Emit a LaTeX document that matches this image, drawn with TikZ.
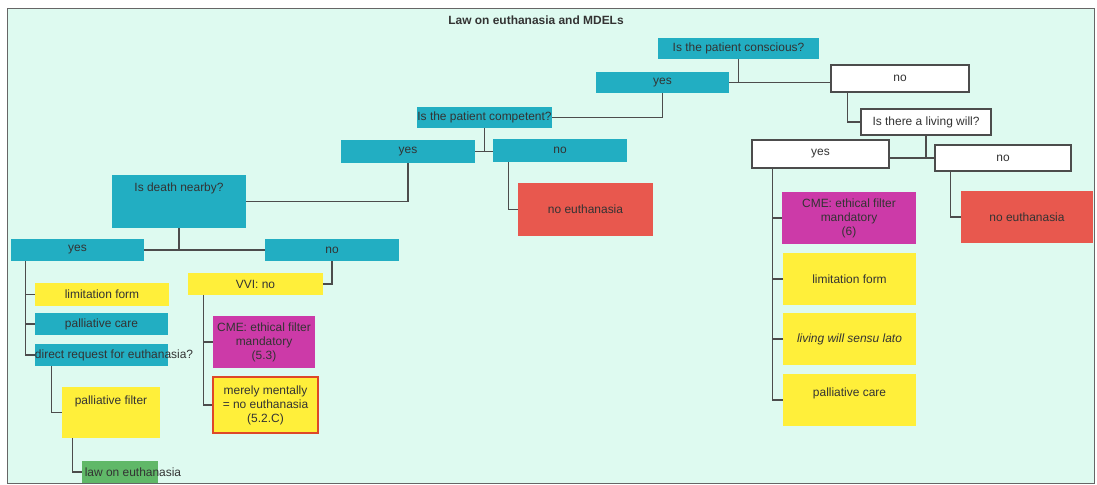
\documentclass[tikz,border=0pt]{standalone}
\usepackage{fontspec}
\setmainfont{Liberation Sans}

\definecolor{tealbox}{RGB}{34,174,194}
\definecolor{redbox}{RGB}{232,88,78}
\definecolor{magbox}{RGB}{204,58,168}
\definecolor{yelbox}{RGB}{255,239,58}
\definecolor{grnbox}{RGB}{96,184,104}
\definecolor{mint}{RGB}{222,250,240}
\definecolor{redborder}{RGB}{222,72,40}

\begin{document}
\begin{tikzpicture}
    [x=0.025cm,y=-0.025cm,
    box/.style={rectangle,inner sep=0pt,align=center,text=black!80,font=\fontsize{8.5}{10}\selectfont},
    question/.style={box,fill=tealbox},
    blank/.style={box,fill=white,draw=black!70,thick},
    verdict/.style={box,fill=redbox},
    ethics/.style={box,fill=magbox},
    option/.style={box,fill=yelbox},
    lawbox/.style={box,fill=grnbox},
    wh/.style 2 args={minimum width=#1*0.025cm,minimum height=#2*0.025cm},
    link/.style={draw=black!70,line width=0.8pt}]

    \useasboundingbox (0,0) rectangle (1097,485);
    \draw[fill=mint,draw=black!60] (7,8) rectangle (1094,483);
    \node[box,font=\fontsize{8.5}{10}\selectfont\bfseries] (title) at (536,20) {Law on euthanasia and MDELs};

    % top of the tree
    \node[question,wh={161}{21}] (consc) at (738.5,48.5) {Is the patient conscious?};
    \node[question,wh={133}{21}] (yes1) at (662.5,82.5) {yes};
    \node[blank,wh={138}{27}] (no1) at (900,78.5) {no};

    % patient not conscious
    \node[blank,wh={130}{26}] (will) at (926,122) {Is there a living will?};
    \node[blank,wh={137}{28}] (yes2) at (820.5,154) {yes};
    \node[blank,wh={136}{26}] (no2) at (1003,158) {no};
    \node[verdict,wh={132}{52}] (noeu2) at (1027,217) {no euthanasia};
    \node[ethics,wh={134}{52}] (cme6) at (849,218) {CME: ethical filter\\mandatory\\(6)};
    \node[option,wh={133}{52}] (limit2) at (849.5,279) {limitation form};
    \node[option,wh={133}{52}] (lwill) at (849.5,339) {\itshape living will sensu lato};
    \node[option,wh={133}{52},text height=0.55cm,text depth=0.75cm] (pall2) at (849.5,400) {palliative care};

    % patient conscious
    \node[question,wh={135}{21}] (compet) at (484.5,117.5) {Is the patient competent?};
    \node[question,wh={134}{23}] (yes3) at (408,151.5) {yes};
    \node[question,wh={134}{23}] (no3) at (560,150.5) {no};
    \node[verdict,wh={135}{53}] (noeu1) at (585.5,209.5) {no euthanasia};
    \node[question,wh={134}{53},text height=0.425cm,text depth=0.9cm] (death) at (179,201.5) {Is death nearby?};
    \node[question,wh={133}{22}] (yes4) at (77.5,250) {yes};
    \node[question,wh={134}{22}] (no4) at (332,250) {no};

    % death not nearby
    \node[option,wh={135}{22}] (vvi) at (255.5,284) {VVI: no};
    \node[ethics,wh={102}{52}] (cme53) at (264,342) {CME: ethical filter\\mandatory\\(5.3)};
    \node[option,wh={105}{56},draw=redborder,line width=1.4pt] (merely) at (265.5,405) {merely mentally\\= no euthanasia\\(5.2.C)};

    % death nearby
    \node[option,wh={134}{23}] (limit1) at (102,294.5) {limitation form};
    \node[question,wh={133}{22}] (pall1) at (101.5,324) {palliative care};
    \node[question,wh={133}{22}] (direct) at (101.5,355) {\makebox[3.325cm][l]{direct request for euthanasia?}};
    \node[option,wh={98}{51},text height=0.425cm,text depth=0.85cm] (pfilter) at (111,412.5) {palliative filter};
    \node[lawbox,wh={76}{22}] (law) at (120,472) {\makebox[1.9cm][l]{\hspace{2pt}law on euthanasia}};

    % connectors
    \draw[link] (consc.south) -- (consc.south |- yes1.east);
    \draw[link] (yes1.east) -- (no1.west |- yes1.east);
    \draw[link] ([xshift=0.425cm]no1.south west) |- (will.west);
    \draw[link] (will.south) -- (will.south |- no2.west);
    \draw[link] (no2.west) -- (no2.west -| yes2.east);
    \draw[link] ([xshift=0.4cm]no2.south west) |- (noeu2.west);
    \coordinate (willtrunk) at ([xshift=0.525cm]yes2.south west);
    \draw[link] (willtrunk) |- (pall2.west);
    \draw[link] (cme6.west) -- (cme6.west -| willtrunk);
    \draw[link] (limit2.west) -- (limit2.west -| willtrunk);
    \draw[link] (lwill.west) -- (lwill.west -| willtrunk);

    \draw[link] (yes1.south) |- (compet.east);
    \draw[link] (compet.south) -- (compet.south |- yes3.east);
    \draw[link] (yes3.east) -- (no3.west |- yes3.east);
    \draw[link] ([xshift=0.4cm]no3.south west) |- (noeu1.west);
    \draw[link] (yes3.south) |- (death.east);
    \draw[link] (death.south) -- (death.south |- yes4.east);
    \draw[link] (yes4.east) -- (no4.west |- yes4.east);

    \draw[link] (no4.south) |- (vvi.east);
    \coordinate (vvitrunk) at ([xshift=0.4cm]vvi.south west);
    \draw[link] (vvitrunk) |- (merely.west);
    \draw[link] (cme53.west) -- (cme53.west -| vvitrunk);

    \coordinate (yestrunk) at ([xshift=0.375cm]yes4.south west);
    \draw[link] (yestrunk) |- (direct.west);
    \draw[link] (limit1.west) -- (limit1.west -| yestrunk);
    \draw[link] (pall1.west) -- (pall1.west -| yestrunk);
    \draw[link] ([xshift=0.425cm]direct.south west) |- (pfilter.west);
    \draw[link] ([xshift=0.275cm]pfilter.south west) |- (law.west);
\end{tikzpicture}
\end{document}
